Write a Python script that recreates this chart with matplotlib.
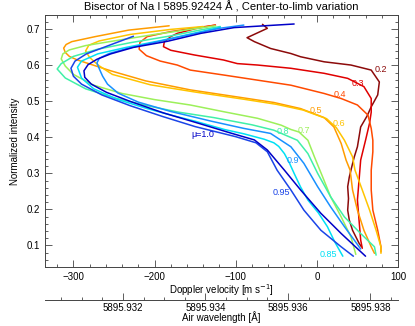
import matplotlib
matplotlib.use('Agg')
import matplotlib.pyplot as plt
from matplotlib.ticker import MultipleLocator, FixedLocator, FormatStrFormatter

plt.rcParams['font.family'] = ['Liberation Sans', 'DejaVu Sans']

# bisector curves, velocity [m/s] vs normalized intensity, bottom -> top
V_02 = [55, 52, 44, 40, 38, 39, 38, 40, 43, 46, 50, 54, 62, 67, 75, 77, 67, 42, 9, -20, -32, -57, -77, -86, -61, -67]
I_02 = [0.096, 0.106, 0.142, 0.17, 0.198, 0.23, 0.263, 0.29, 0.318, 0.345, 0.374, 0.429, 0.46, 0.485, 0.518, 0.554,
        0.587, 0.601, 0.610, 0.624, 0.633, 0.647, 0.666, 0.677, 0.703, 0.714]

V_03 = [56, 54, 52, 50, 52, 54, 60, 65, 67, 67, 58, 38, 9, -32, -73, -98, -115, -151, -180, -189, -188, -180, -172,
        -150, -125]
I_03 = [0.092, 0.115, 0.170, 0.226, 0.281, 0.337, 0.392, 0.440, 0.470, 0.508, 0.541, 0.564, 0.578, 0.592, 0.601,
        0.605, 0.615, 0.629, 0.642, 0.652, 0.665, 0.680, 0.689, 0.702, 0.712]

V_04 = [79, 79, 75, 69, 67, 67, 69, 69, 67, 63, 50, 30, 9, -32, -73, -114, -156, -172, -193, -210, -219, -218, -209,
        -180, -150, -125]
I_04 = [0.082, 0.096, 0.142, 0.198, 0.254, 0.309, 0.36, 0.392, 0.425, 0.462, 0.490, 0.508, 0.522, 0.545, 0.559,
        0.573, 0.587, 0.601, 0.612, 0.627, 0.645, 0.664, 0.680, 0.694, 0.704, 0.712]

V_05 = [71, 67, 58, 50, 44, 41, 36, 30, 21, 9, -20, -53, -94, -156, -211, -254, -295, -305, -310, -312, -309, -302,
        -273, -232, -182]
I_05 = [0.078, 0.096, 0.142, 0.198, 0.254, 0.309, 0.337, 0.383, 0.429, 0.455, 0.480, 0.497, 0.511, 0.532, 0.557,
        0.585, 0.615, 0.625, 0.636, 0.648, 0.658, 0.666, 0.680, 0.698, 0.710]

V_06 = [79, 79, 73, 65, 56, 47, 44, 34, 24, 12, -17, -50, -90, -150, -205, -252, -269, -280, -285, -281, -268, -230,
        -180, -140]
I_06 = [0.078, 0.096, 0.142, 0.198, 0.254, 0.309, 0.346, 0.392, 0.427, 0.452, 0.476, 0.492, 0.506, 0.526, 0.546,
        0.575, 0.600, 0.622, 0.640, 0.656, 0.668, 0.686, 0.700, 0.708]

V_07 = [48, 42, 30, 17, 7, -3, -11, -22, -32, -44, -73, -114, -156, -200, -240, -275, -300, -310, -315, -313, -305,
        -285, -250, -200, -150, -125]
I_07 = [0.075, 0.124, 0.179, 0.235, 0.291, 0.346, 0.392, 0.415, 0.422, 0.434, 0.453, 0.471, 0.490, 0.505, 0.522,
        0.545, 0.575, 0.598, 0.618, 0.632, 0.643, 0.655, 0.668, 0.686, 0.702, 0.710]

V_08 = [73, 71, 54, 34, 17, 1, -11, -24, -53, -80, -127, -170, -209, -250, -285, -310, -320, -315, -300, -270, -230,
        -180, -140, -119]
I_08 = [0.073, 0.096, 0.133, 0.179, 0.235, 0.300, 0.355, 0.392, 0.420, 0.435, 0.455, 0.470, 0.488, 0.510, 0.535,
        0.565, 0.590, 0.605, 0.625, 0.645, 0.663, 0.682, 0.700, 0.708]

V_085 = [32, 22, 13, 2, -11, -20, -28, -34, -40, -47, -53, -65, -90, -114, -150, -180, -209, -245, -275, -290, -295,
         -290, -270, -235, -190, -150, -119]
I_085 = [0.070, 0.110, 0.152, 0.190, 0.226, 0.262, 0.300, 0.330, 0.355, 0.375, 0.385, 0.395, 0.410, 0.422, 0.445,
         0.462, 0.480, 0.505, 0.535, 0.565, 0.595, 0.612, 0.632, 0.650, 0.670, 0.690, 0.706]

V_09 = [54, 46, 34, 17, 1, -16, -32, -57, -90, -130, -180, -220, -245, -258, -264, -268, -271, -268, -256, -234, -200,
        -160, -120, -90]
I_09 = [0.090, 0.115, 0.152, 0.207, 0.263, 0.328, 0.374, 0.411, 0.425, 0.445, 0.472, 0.498, 0.523, 0.548, 0.570,
        0.590, 0.607, 0.620, 0.633, 0.647, 0.664, 0.684, 0.703, 0.712]

V_095 = [45, 30, 5, -16, -32, -49, -61, -75, -100, -150, -190, -230, -265, -290, -300, -303, -298, -284, -258, -226]
I_095 = [0.070, 0.096, 0.142, 0.198, 0.254, 0.309, 0.360, 0.385, 0.402, 0.430, 0.458, 0.488, 0.518, 0.548, 0.570,
         0.592, 0.612, 0.632, 0.654, 0.681]

V_10 = [60, 30, 5, -20, -40, -61, -77, -106, -147, -189, -230, -259, -278, -286, -287, -282, -271, -254, -226, -184,
        -143, -102, -28]
I_10 = [0.070, 0.133, 0.189, 0.254, 0.309, 0.365, 0.393, 0.412, 0.440, 0.468, 0.500, 0.525, 0.548, 0.567, 0.585,
        0.602, 0.617, 0.632, 0.650, 0.667, 0.689, 0.705, 0.715]

MU_LABELS = ['0.2', '0.3', '0.4', '0.5', '0.6', '0.7', '0.8', '0.85', '0.9', '0.95', 'μ=1.0']
COLORS = ['#8c0a0a', '#e00000', '#ff4a00', '#ff9c00', '#ffc400', '#9cf05a', '#40f0a8', '#00e0f4', '#1890ff',
          '#1a44e8', '#0000c8']
CURVES = [(V_02, I_02), (V_03, I_03), (V_04, I_04), (V_05, I_05), (V_06, I_06), (V_07, I_07), (V_08, I_08),
          (V_085, I_085), (V_09, I_09), (V_095, I_095), (V_10, I_10)]

WL_TICKS = [5895.932, 5895.934, 5895.936, 5895.938]
LAM0 = 5895.92424
LAM_REF = 5895.9367
C_LIGHT = 2.99792458e8

fig = plt.figure(figsize=(4.15, 3.26), dpi=100)
ax = fig.add_axes([45 / 415, 1 - 267 / 326, 353 / 415, 252 / 326])

for (v, i), col in zip(CURVES, COLORS):
    ax.plot(v, i, color=col, lw=1.1, solid_joinstyle='round', solid_capstyle='round')

# curve labels
label_pos = [(79, 0.589), (51, 0.55), (28, 0.52), (-1, 0.474), (27, 0.439), (-16, 0.418), (-42, 0.416),
             (14, 0.076), (-29, 0.337), (-44, 0.246), (-140, 0.409)]
for txt, (x, y), col in zip(MU_LABELS, label_pos, COLORS):
    ax.text(x, y, txt, color=col, fontsize=6.5, ha='center', va='center')

ax.set_xlim(-335, 100)
ax.set_ylim(0.04, 0.74)
ax.xaxis.set_major_locator(MultipleLocator(100))
ax.xaxis.set_minor_locator(MultipleLocator(20))
ax.yaxis.set_major_locator(MultipleLocator(0.1))
ax.yaxis.set_minor_locator(MultipleLocator(0.02))
ax.tick_params(which='both', direction='in', top=True, right=True, labelsize=7, color='#444444')
ax.tick_params(which='major', length=5, width=0.6)
ax.tick_params(which='minor', length=2.5, width=0.6)
for s in ax.spines.values():
    s.set_linewidth(0.7)
    s.set_color('#444444')

ax.set_xlabel('Doppler velocity [m s$^{-1}$]', fontsize=7, labelpad=0)
ax.set_ylabel('Normalized intensity', fontsize=7, labelpad=5)
ax.set_title('Bisector of Na I 5895.92424 Å , Center-to-limb variation', fontsize=8, pad=3)

# wavelength axis below
sec = ax.secondary_xaxis(-33 / 252, functions=(lambda v: LAM_REF + v * LAM0 / C_LIGHT,
                                               lambda l: (l - LAM_REF) * C_LIGHT / LAM0))
sec.xaxis.set_major_locator(FixedLocator(WL_TICKS))
sec.xaxis.set_minor_locator(MultipleLocator(0.0005))
sec.xaxis.set_major_formatter(FormatStrFormatter('%.3f'))
sec.tick_params(which='both', direction='in', labelsize=7, color='#444444', pad=2)
sec.tick_params(which='major', length=5, width=0.6)
sec.tick_params(which='minor', length=2.5, width=0.6)
sec.spines['bottom'].set_linewidth(0.7)
sec.spines['bottom'].set_color('#444444')
sec.set_xlabel('Air wavelength [Å]', fontsize=7, labelpad=-1)

fig.savefig('out.png', dpi=100)
